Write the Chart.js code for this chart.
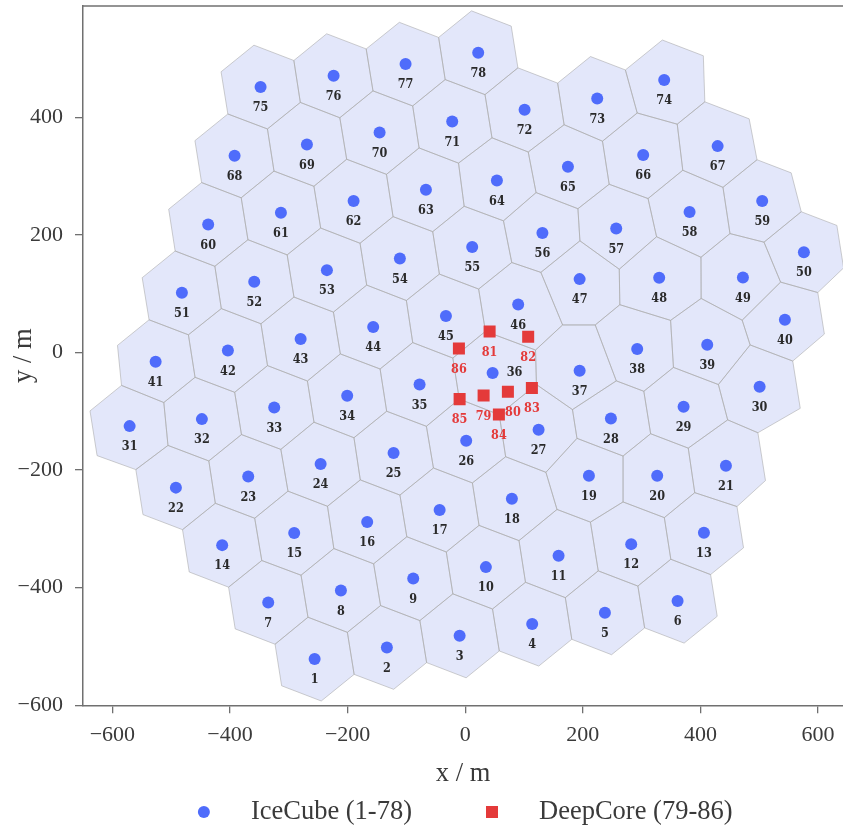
<!DOCTYPE html>
<html>
<head>
<meta charset="utf-8">
<script src="https://cdn.jsdelivr.net/npm/chart.js@4.4.1/dist/chart.umd.min.js"></script>
<style>
  html, body { margin: 0; padding: 0; background: #fff; overflow: hidden; }
  canvas { display: block; }
</style>
</head>
<body>
<canvas id="layout" width="843" height="828"></canvas>
<script>
// IceCube strings 1..78, surface positions in metres
const iceX = [-256.1, -133.2, -9.5, 113.9, 237.6, 361.2,
  -335.0, -211.4, -88.4, 35.2, 158.8, 282.3, 406.0,
  -413.3, -290.8, -166.7, -43.5, 79.4, 210.4, 326.5, 443.4,
  -492.0, -369.0, -245.9, -121.8, 1.7, 124.8, 247.8, 371.4, 500.7,
  -570.7, -447.8, -324.8, -200.7, -77.6, 46.6, 194.6, 292.5, 411.6, 543.7,
  -526.5, -403.6, -279.9, -156.5, -32.8, 90.1, 194.6, 329.9, 472.3, 576.0,
  -481.8, -358.8, -235.2, -111.1, 11.9, 131.3, 256.8, 381.6, 505.1,
  -437.1, -313.4, -189.8, -66.8, 53.9, 174.7, 302.7, 429.3,
  -392.2, -269.2, -145.6, -22.1, 101.0, 224.5, 338.4,
  -348.0, -223.8, -101.4, 22.1];
const iceY = [-521.4, -501.7, -481.8, -461.9, -442.7, -422.8,
  -425.2, -404.8, -384.4, -365.0, -345.7, -325.9, -306.6,
  -327.6, -307.1, -288.4, -268.0, -248.8, -209.7, -209.7, -192.7,
  -229.8, -210.9, -189.8, -171.1, -150.2, -131.5, -112.2, -92.3, -58.3,
  -125.2, -113.3, -93.5, -73.6, -54.4, -35.0, -31.1, 5.8, 13.1, 55.6,
  -15.8, 3.4, 22.8, 43.2, 61.9, 81.6, 124.8, 127.0, 127.6, 170.7,
  101.5, 120.2, 140.1, 159.9, 179.3, 203.1, 210.9, 238.8, 257.5,
  217.7, 237.6, 257.5, 276.7, 292.5, 315.8, 335.7, 351.0,
  334.5, 353.7, 374.1, 392.9, 412.8, 432.0, 463.3,
  451.4, 470.6, 490.5, 509.7];

// DeepCore strings 79..86
const deepX = [31.3, 72.6, 41.5, 107.1, 113.4, 57.3, -9.5, -10.7];
const deepY = [-73.1, -66.8, 35.7, 26.7, -60.5, -105.4, -79.3, 6.8];

const xTicks = [-600, -400, -200, 0, 200, 400, 600];
const yTicks = [-600, -400, -200, 0, 200, 400];

const iceNames = iceX.map((_, i) => String(i + 1));
const deepNames = deepX.map((_, i) => String(i + 79));

const BLUE = '#4f6cfb';
const RED = '#e43a3a';
const SPINE = '#707070';
const TEXT = '#3a3a3a';
const SERIF = "'Liberation Serif', 'DejaVu Serif', serif";
const LABEL_FONT = "bold 12.5px 'DejaVu Serif Condensed', 'DejaVu Serif', serif";

// Voronoi cells of the IceCube strings. The array sits on a triangular
// grid (125 m spacing), so empty grid sites around the edge act as
// ghost seeds that close off the outer cells as hexagons.
const spacing = 125;
const gridAngle = 9 * Math.PI / 180;
const sites = iceX.map((x, i) => [x, iceY[i]]);
const ghosts = [];
const hasNear = (g, list) => list.some(p => Math.hypot(p[0] - g[0], p[1] - g[1]) < 0.75 * spacing);
sites.forEach(p => {
  for (let k = 0; k < 6; k++) {
    const a = gridAngle + k * Math.PI / 3;
    const g = [p[0] + spacing * Math.cos(a), p[1] + spacing * Math.sin(a)];
    if (!hasNear(g, sites) && !hasNear(g, ghosts)) ghosts.push(g);
  }
});

function clipHalf(poly, p, q) {
  // keep the part of poly that is closer to p than to q
  const nx = q[0] - p[0], ny = q[1] - p[1];
  const c = (q[0] * q[0] + q[1] * q[1] - p[0] * p[0] - p[1] * p[1]) / 2;
  const side = v => v[0] * nx + v[1] * ny - c;
  const out = [];
  for (let i = 0; i < poly.length; i++) {
    const a = poly[i], b = poly[(i + 1) % poly.length];
    const sa = side(a), sb = side(b);
    if (sa <= 0) out.push(a);
    if ((sa < 0 && sb > 0) || (sa > 0 && sb < 0)) {
      const t = sa / (sa - sb);
      out.push([a[0] + t * (b[0] - a[0]), a[1] + t * (b[1] - a[1])]);
    }
  }
  return out;
}

const seeds = sites.concat(ghosts);
const cells = sites.map((p, i) => {
  let poly = [[-2000, -2000], [2000, -2000], [2000, 2000], [-2000, 2000]];
  seeds.forEach((q, j) => { if (j !== i) poly = clipHalf(poly, p, q); });
  return poly;
});

const cellPlugin = {
  id: 'cells',
  beforeDatasetsDraw(chart) {
    const { ctx, chartArea, scales: { x, y } } = chart;
    ctx.save();
    ctx.beginPath();
    ctx.rect(chartArea.left, chartArea.top, chartArea.right - chartArea.left, chartArea.bottom - chartArea.top);
    ctx.clip();
    const path = poly => {
      ctx.beginPath();
      poly.forEach((v, k) => {
        const px = x.getPixelForValue(v[0]), py = y.getPixelForValue(v[1]);
        if (k) ctx.lineTo(px, py); else ctx.moveTo(px, py);
      });
      ctx.closePath();
    };
    ctx.fillStyle = '#e3e7fa';
    cells.forEach(poly => { path(poly); ctx.fill(); });
    ctx.strokeStyle = 'rgba(165,165,165,0.55)';
    ctx.lineWidth = 1;
    cells.forEach(poly => { path(poly); ctx.stroke(); });

    // string numbers, under the markers
    ctx.font = LABEL_FONT;
    ctx.textAlign = 'center';
    ctx.textBaseline = 'middle';
    ctx.fillStyle = '#2a2a2a';
    iceNames.forEach((name, i) => {
      const px = x.getPixelForValue(iceX[i]), py = y.getPixelForValue(iceY[i]);
      if (name === '36') ctx.fillText(name, px + 22, py);
      else ctx.fillText(name, px, py + 21);
    });
    ctx.fillStyle = RED;
    deepNames.forEach((name, i) => {
      const px = x.getPixelForValue(deepX[i]), py = y.getPixelForValue(deepY[i]);
      ctx.fillText(name, px + (name === '80' ? 5 : 0), py + 21);
    });
    ctx.restore();
  }
};

const framePlugin = {
  id: 'frame',
  afterDraw(chart) {
    const { ctx, chartArea, scales: { x } } = chart;
    ctx.save();
    ctx.strokeStyle = SPINE;
    ctx.lineWidth = 1.5;
    ctx.beginPath();
    ctx.moveTo(chartArea.left, chartArea.top);
    ctx.lineTo(chartArea.right, chartArea.top);
    ctx.stroke();

    // legend row, centred under the axes box
    ctx.font = '26.5px ' + SERIF;
    ctx.textBaseline = 'middle';
    ctx.textAlign = 'left';
    const items = chart.data.datasets.map(ds => ({ text: ds.label, color: ds.backgroundColor, style: ds.pointStyle, w: ctx.measureText(ds.label).width }));
    const markGap = 47, itemGap = 80, half = 6;
    let total = half;
    items.forEach((it, k) => { total += markGap + it.w + (k < items.length - 1 ? itemGap : 0); });
    const mid = (x.getPixelForValue(-650) + x.getPixelForValue(650)) / 2;
    let cx = mid - total / 2 + half;
    const cy = 812;
    items.forEach(it => {
      ctx.fillStyle = it.color;
      ctx.beginPath();
      if (it.style === 'rect') ctx.rect(cx - 6, cy - 6, 12, 12);
      else ctx.arc(cx, cy, 6, 0, Math.PI * 2);
      ctx.fill();
      ctx.fillStyle = TEXT;
      ctx.fillText(it.text, cx + markGap, cy);
      cx += markGap + it.w + itemGap;
    });
    ctx.restore();
  }
};

const minusFmt = v => (v < 0 ? '\u2212' + Math.abs(v) : String(v));

new Chart(document.getElementById('layout'), {
  type: 'scatter',
  data: {
    datasets: [{
      label: 'IceCube (1-78)',
      data: iceX.map((x, i) => ({ x, y: iceY[i] })),
      backgroundColor: BLUE,
      borderWidth: 0,
      pointStyle: 'circle',
      pointRadius: 6,
      pointHoverRadius: 6
    }, {
      label: 'DeepCore (79-86)',
      data: deepX.map((x, i) => ({ x, y: deepY[i] })),
      backgroundColor: RED,
      borderWidth: 0,
      pointStyle: 'rect',
      pointRadius: 8.5,
      pointHoverRadius: 8.5
    }]
  },
  options: {
    responsive: false,
    animation: false,
    layout: { autoPadding: false, padding: { top: 6, left: 0, right: 0, bottom: 0 } },
    plugins: { legend: { display: false }, tooltip: { enabled: false } },
    scales: {
      x: {
        type: 'linear',
        min: -650,
        max: 642.5,
        afterBuildTicks: s => { s.ticks = xTicks.map(v => ({ value: v })); },
        afterFit: s => { s.height = 122.7; s.paddingLeft = 0; s.paddingRight = 0; },
        grid: { drawOnChartArea: false, drawTicks: true, tickLength: 8, color: SPINE, lineWidth: 1.3 },
        border: { display: true, color: SPINE, width: 1.5 },
        ticks: { callback: minusFmt, color: TEXT, padding: 9, maxRotation: 0, font: { family: SERIF, size: 22 } },
        title: { display: true, text: 'x / m', color: TEXT, font: { family: SERIF, size: 26.5 }, padding: { top: 0, bottom: 38 } }
      },
      y: {
        type: 'linear',
        min: -600,
        max: 589.3,
        afterBuildTicks: s => { s.ticks = yTicks.map(v => ({ value: v })); },
        afterFit: s => { s.width = 83; s.paddingTop = 0; s.paddingBottom = 0; },
        grid: { drawOnChartArea: false, drawTicks: true, tickLength: 8, color: SPINE, lineWidth: 1.3 },
        border: { display: true, color: SPINE, width: 1.5 },
        ticks: { callback: minusFmt, color: TEXT, padding: 12, font: { family: SERIF, size: 22 } },
        title: { display: true, text: 'y / m', color: TEXT, font: { family: SERIF, size: 26.5 }, padding: { top: 8, bottom: 0 } }
      }
    }
  },
  plugins: [cellPlugin, framePlugin]
});
</script>
</body>
</html>
